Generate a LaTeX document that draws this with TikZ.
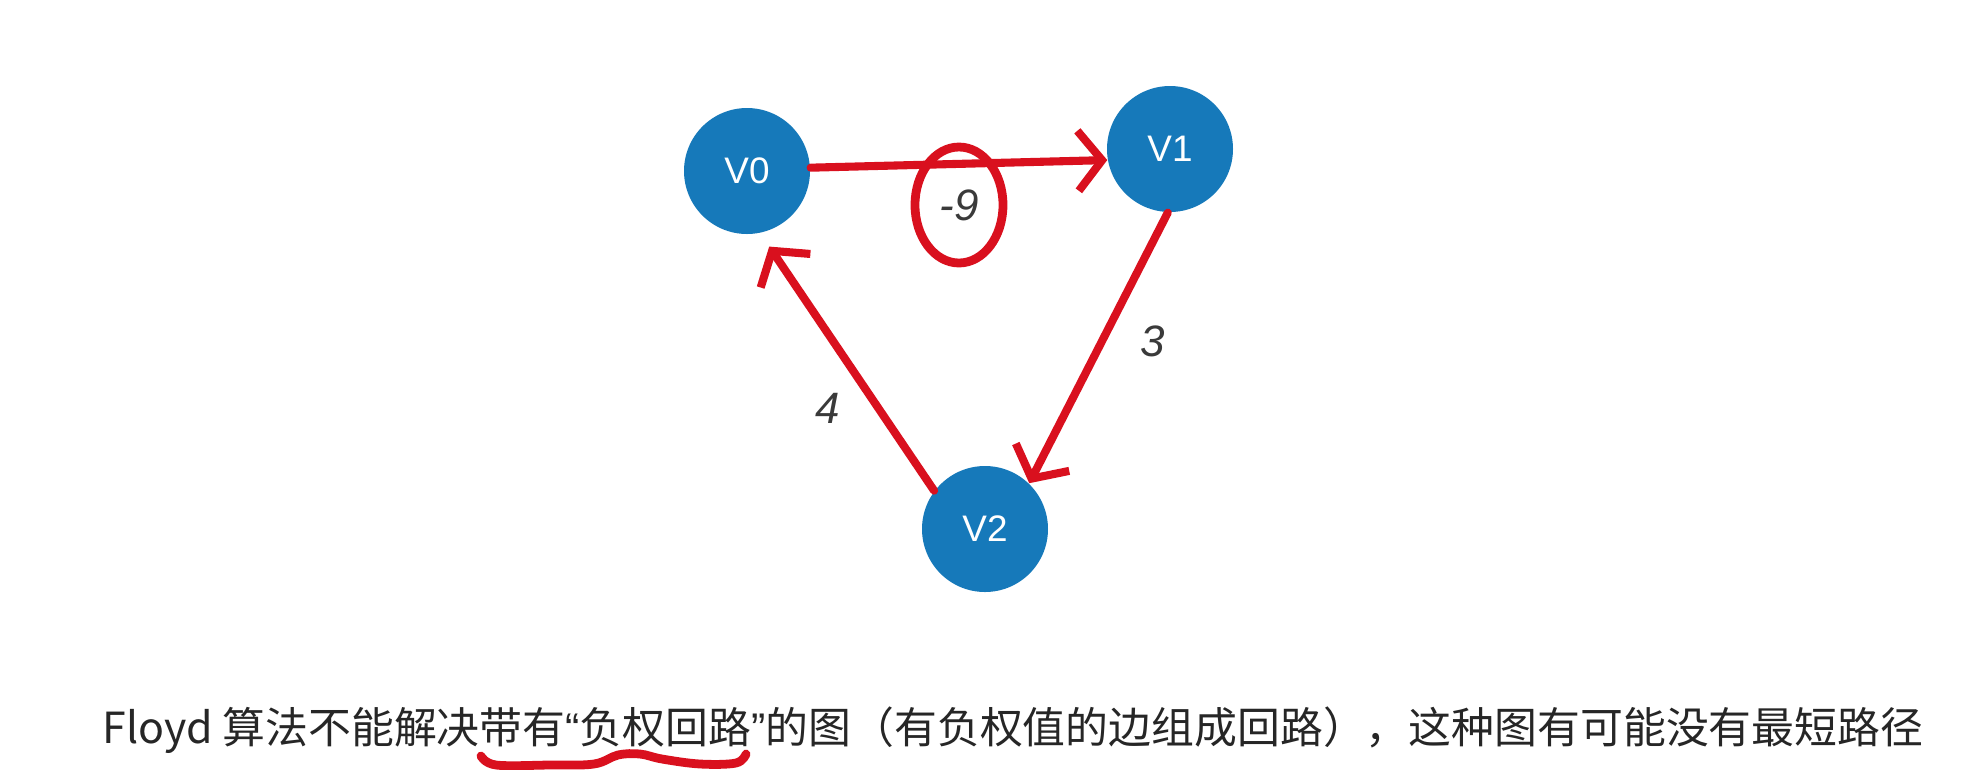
\documentclass[tikz,border=0pt]{standalone}
\usepackage{fontspec}
\setmainfont{Liberation Sans}
\newfontfamily\cjk{Noto Sans CJK SC}
\newfontfamily\quotefont{Liberation Sans}
\usetikzlibrary{arrows.meta,positioning}
\definecolor{nodeblue}{HTML}{1679BA}
\definecolor{markred}{HTML}{D9101E}
\definecolor{labelgray}{HTML}{3A3A3A}

\begin{document}
\begin{tikzpicture}[
  x=0.1mm, y=-0.1mm,
  vertex/.style={
    circle, fill=nodeblue, minimum size=12.6mm, inner sep=0pt,
    text=white, font=\fontsize{10.5}{12}\selectfont
  },
  weight/.style={font=\fontsize{12.5}{14}\selectfont\itshape, text=labelgray},
  redarrow/.style={-{Straight Barb[length=2.4mm,width=6mm]}, line width=2.3pt, markred,
    line cap=round, line join=round},
  redmark/.style={line width=2.5pt, markred, line cap=round}
]
\useasboundingbox (0,0) rectangle (1983,769);

\node[vertex] (v0) at (747,171) {V0};
\node[vertex] (v1) at (1170,149) {V1};
\node[vertex] (v2) at (985,529) {V2};

\node[weight] (w01) at (959,205) {-9};
\node[weight] (w12) at (1153,341) {3};
\node[weight] (w20) at (828,408) {4};

\draw[redarrow] (v0.3) -- (v1.190);
\draw[redarrow] (v1.-92) -- (v2.46);
\draw[redarrow, shorten >=1.6mm] (v2.143) -- (v0.-78);

% circled weight
\draw[redmark] (w01) ellipse [x radius=4.4mm, y radius=5.8mm];

\node[font=\cjk\fontsize{12.2}{14}\selectfont, text=black!85] (caption) at (1013,730)
  {Floyd 算法不能解决带有{\quotefont “}负权回路{\quotefont ”}的图（有负权值的边组成回路），这种图有可能没有最短路径};

% underline
\draw[redmark] plot[smooth, tension=0.6] coordinates {(481,756) (496,765) (550,765) (594,764)
  (618,755) (640,754) (662,759) (700,764) (736,763) (746,754)};
\end{tikzpicture}
\end{document}
